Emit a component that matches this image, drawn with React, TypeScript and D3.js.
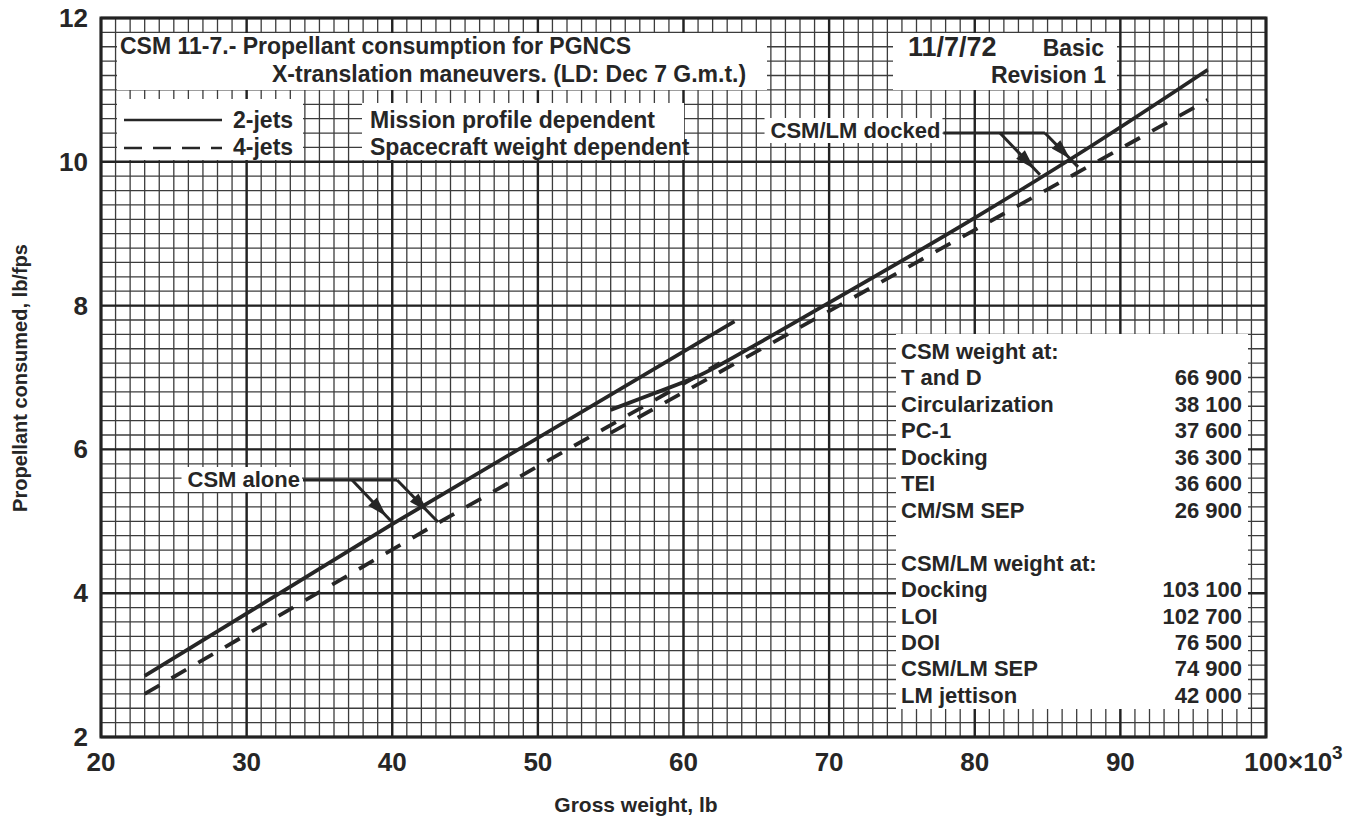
import React, { useLayoutEffect, useRef, useState } from 'react';
import * as d3 from 'd3';

// ---------- data (gross weight in 10^3 lb, propellant in lb/fps) ----------
const xTickValues = [20, 30, 40, 50, 60, 70, 80, 90, 100];
const xTickLabels = ['20', '30', '40', '50', '60', '70', '80', '90', '100'];
const yTickValues = [2, 4, 6, 8, 10, 12];
const yTickLabels = ['2', '4', '6', '8', '10', '12'];

const csmAlone2Jets: [number, number][] = [[23, 2.85], [40, 4.96], [63.5, 7.78]];
const csmAlone4Jets: [number, number][] = [[23, 2.6], [43, 4.96], [62.5, 7.2]];
const docked2Jets: [number, number][] = [
  [55, 6.55], [58, 6.78], [61, 7.02], [65, 7.46], [70, 8.04], [80, 9.22], [88, 10.22], [96, 11.28],
];
const docked4Jets: [number, number][] = [[55, 6.23], [96, 10.86]];

const csmWeightRows = [
  ['T and D', '66 900'],
  ['Circularization', '38 100'],
  ['PC-1', '37 600'],
  ['Docking', '36 300'],
  ['TEI', '36 600'],
  ['CM/SM SEP', '26 900'],
];
const csmLmWeightRows = [
  ['Docking', '103 100'],
  ['LOI', '102 700'],
  ['DOI', '76 500'],
  ['CSM/LM SEP', '74 900'],
  ['LM jettison', '42 000'],
];

// leader lines for callouts (data coordinates): start, elbows, tips
const csmAloneLeader = { start: [33.87, 5.574], elbows: [[37.24, 5.574], [40.33, 5.574]], tips: [[39.98, 4.99], [43.14, 4.99]] };
const dockedLeader = { start: [77.85, 10.40], elbows: [[81.73, 10.40], [84.82, 10.40]], tips: [[84.48, 9.82], [87.09, 9.93]] };

// ---------- layout ----------
const W = 1371;
const H = 822;
const FONT = "'Liberation Sans', Arial, 'DejaVu Sans', sans-serif";
const INK = '#262626';

function Arrow({ x1, y1, x2, y2, t }: { x1: number; y1: number; x2: number; y2: number; t: number }) {
  const dx = x2 - x1, dy = y2 - y1;
  const len = Math.hypot(dx, dy);
  const ux = dx / len, uy = dy / len;
  const tx = x1 + dx * t, ty = y1 + dy * t;
  const L = 20, hw = 6;
  const bx = tx - ux * L, by = ty - uy * L;
  const pts = `${tx},${ty} ${bx - uy * hw},${by + ux * hw} ${bx + uy * hw},${by - ux * hw}`;
  return (
    <g>
      <line x1={x1} y1={y1} x2={x2} y2={y2} stroke={INK} strokeWidth={3} />
      <polygon points={pts} fill={INK} />
    </g>
  );
}

function BoxedLabel({ xEnd, y, text }: { xEnd: number; y: number; text: string }) {
  const ref = useRef<SVGTextElement>(null);
  const [bb, setBb] = useState<{ x: number; y: number; w: number; h: number } | null>(null);
  useLayoutEffect(() => {
    if (ref.current) {
      const b = ref.current.getBBox();
      setBb({ x: b.x, y: b.y, w: b.width, h: b.height });
    }
  }, [text]);
  return (
    <g>
      {bb && <rect x={bb.x - 6} y={bb.y} width={bb.w + 8} height={bb.h} fill="#fff" />}
      <text ref={ref} x={xEnd} y={y} textAnchor="end" fontFamily={FONT} fontWeight={700} fontSize={22} fill={INK}>
        {text}
      </text>
    </g>
  );
}

export default function App() {
  const x = d3.scaleLinear().domain([20, 100]).range([101, 1266]);
  const y = d3.scaleLinear().domain([2, 12]).range([737, 18]);

  const minorX = x.ticks(80);
  const minorY = y.ticks(50);
  const majorX = x.ticks(8);
  const majorY = y.ticks(5);

  const straight = d3.line<[number, number]>().x((d) => x(d[0])).y((d) => y(d[1]));
  const curved = d3
    .line<[number, number]>()
    .x((d) => x(d[0]))
    .y((d) => y(d[1]))
    .curve(d3.curveMonotoneX);

  const dash = '17,14';
  const tableBase = 359;
  const rowH = 26.45;
  const tableRows: { label: string; value: string }[] = [
    { label: 'CSM weight at:', value: '' },
    ...csmWeightRows.map(([label, value]) => ({ label, value })),
    { label: '', value: '' },
    { label: 'CSM/LM weight at:', value: '' },
    ...csmLmWeightRows.map(([label, value]) => ({ label, value })),
  ];

  const leader = (ld: typeof csmAloneLeader) => {
    const sx = x(ld.start[0]);
    const sy = y(ld.start[1]);
    const e1 = [x(ld.elbows[0][0]), y(ld.elbows[0][1])];
    const e2 = [x(ld.elbows[1][0]), y(ld.elbows[1][1])];
    const t1 = [x(ld.tips[0][0]), y(ld.tips[0][1])];
    const t2 = [x(ld.tips[1][0]), y(ld.tips[1][1])];
    return (
      <g>
        <line x1={sx} y1={sy} x2={e2[0]} y2={e2[1]} stroke={INK} strokeWidth={3} />
        <Arrow x1={e1[0]} y1={e1[1]} x2={t1[0]} y2={t1[1]} t={0.86} />
        <Arrow x1={e2[0]} y1={e2[1]} x2={t2[0]} y2={t2[1]} t={0.76} />
      </g>
    );
  };

  return (
    <svg
      width={W}
      height={H}
      viewBox={`0 0 ${W} ${H}`}
      style={{ position: 'absolute', left: 0, top: 0, background: '#fff' }}
    >
      <rect x={0} y={0} width={W} height={H} fill="#fff" />
      {/* grid */}
      <g>
        {minorX.map((v) => (
          <line key={'mx' + v} x1={x(v)} x2={x(v)} y1={y(2)} y2={y(12)} stroke="#3c3c3c" strokeWidth={1.3} />
        ))}
        {minorY.map((v) => (
          <line key={'my' + v} x1={x(20)} x2={x(100)} y1={y(v)} y2={y(v)} stroke="#3c3c3c" strokeWidth={1.3} />
        ))}
        {majorX.map((v) => (
          <line key={'Mx' + v} x1={x(v)} x2={x(v)} y1={y(2)} y2={y(12)} stroke="#222" strokeWidth={2.4} />
        ))}
        {majorY.map((v) => (
          <line key={'My' + v} x1={x(20)} x2={x(100)} y1={y(v)} y2={y(v)} stroke="#222" strokeWidth={2.4} />
        ))}
        <rect x={x(20)} y={y(12)} width={x(100) - x(20)} height={y(2) - y(12)} fill="none" stroke="#222" strokeWidth={3} />
      </g>

      {/* curves */}
      <g fill="none" stroke={INK} strokeWidth={3.8}>
        <path d={straight(csmAlone2Jets) || ''} />
        <path d={straight(csmAlone4Jets) || ''} strokeDasharray={dash} />
        <path d={curved(docked2Jets) || ''} />
        <path d={straight(docked4Jets) || ''} strokeDasharray={dash} />
      </g>

      {/* title box */}
      <rect x={117} y={33} width={650} height={57} fill="#fff" />
      <text fontFamily={FONT} fontWeight={700} fontSize={23} fill={INK}>
        <tspan x={120} y={54}>CSM 11-7.- Propellant consumption for PGNCS</tspan>
        <tspan x={272} y={82}>X-translation maneuvers. (LD: Dec 7 G.m.t.)</tspan>
      </text>

      {/* date box */}
      <rect x={893} y={33} width={224} height={57} fill="#fff" />
      <text x={908} y={56} fontFamily={FONT} fontWeight={700} fontSize={27} fill={INK}>
        11/7/72
      </text>
      <text fontFamily={FONT} fontWeight={700} fontSize={23} fill={INK} textAnchor="end">
        <tspan x={1104} y={56}>Basic</tspan>
        <tspan x={1106} y={83}>Revision 1</tspan>
      </text>

      {/* legend box */}
      <rect x={117} y={99} width={186} height={61} fill="#fff" />
      <line x1={124} x2={222} y1={120} y2={120} stroke={INK} strokeWidth={2.5} />
      <line x1={124} x2={222} y1={148} y2={148} stroke={INK} strokeWidth={2.5} strokeDasharray="18,11" />
      <text fontFamily={FONT} fontWeight={700} fontSize={23} fill={INK}>
        <tspan x={233} y={128}>2-jets</tspan>
        <tspan x={233} y={155}>4-jets</tspan>
      </text>

      <rect x={362} y={103} width={322} height={57} fill="#fff" />
      <text fontFamily={FONT} fontWeight={700} fontSize={23} fill={INK}>
        <tspan x={370} y={128}>Mission profile dependent</tspan>
        <tspan x={370} y={155}>Spacecraft weight dependent</tspan>
      </text>

      {/* callouts */}
      <BoxedLabel xEnd={x(csmAloneLeader.start[0]) - 3} y={487} text="CSM alone" />
      {leader(csmAloneLeader)}
      <BoxedLabel xEnd={x(dockedLeader.start[0]) - 3} y={138} text="CSM/LM docked" />
      {leader(dockedLeader)}

      {/* weight table */}
      <rect x={896} y={334} width={352} height={375} fill="#fff" />
      <g fontFamily={FONT} fontWeight={700} fontSize={22} fill={INK}>
        {tableRows.map((r, i) => (
          <g key={'row' + i}>
            <text x={901} y={tableBase + i * rowH}>{r.label}</text>
            <text x={1242} y={tableBase + i * rowH} textAnchor="end">{r.value}</text>
          </g>
        ))}
      </g>

      {/* axes labels */}
      <g fontFamily={FONT} fontWeight={700} fontSize={26} fill={INK}>
        {yTickValues.map((v, i) => (
          <text key={'yt' + v} x={88} y={y(v) + 9} textAnchor="end">{yTickLabels[i]}</text>
        ))}
        {xTickValues.map((v, i) => (
          <text key={'xt' + v} x={x(v)} y={771} textAnchor="middle">{xTickLabels[i]}</text>
        ))}
        <text x={x(100) + 22} y={771}>
          ×10<tspan dy={-12} fontSize={19}>3</tspan>
        </text>
      </g>
      <text x={636} y={812} textAnchor="middle" fontFamily={FONT} fontWeight={700} fontSize={21} fill={INK}>
        Gross weight, lb
      </text>
      <text
        transform="translate(27,378) rotate(-90)"
        textAnchor="middle"
        fontFamily={FONT}
        fontWeight={700}
        fontSize={20}
        fill={INK}
      >
        Propellant consumed, lb/fps
      </text>
    </svg>
  );
}
